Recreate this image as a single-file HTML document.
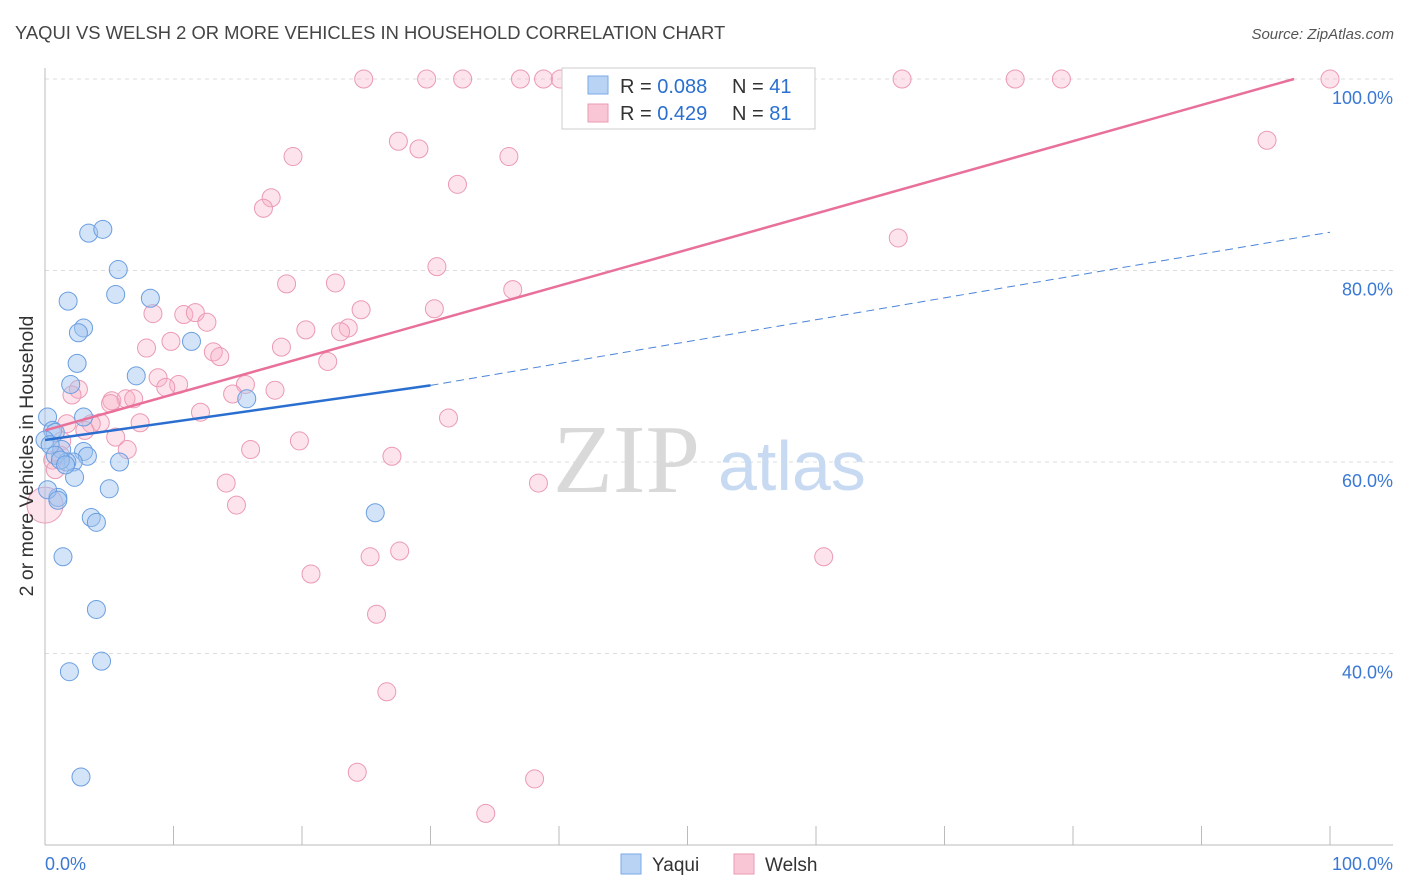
<!DOCTYPE html>
<html><head><meta charset="utf-8">
<style>
body{margin:0;background:#fff;font-family:"Liberation Sans",sans-serif;}
svg{display:block}
</style></head>
<body>
<svg id="chart" width="1406" height="892" xmlns="http://www.w3.org/2000/svg">
<text x="15" y="39" font-size="18.4" fill="#444" font-family="Liberation Sans, sans-serif">YAQUI VS WELSH 2 OR MORE VEHICLES IN HOUSEHOLD CORRELATION CHART</text>
<text x="1394" y="39" font-size="15" fill="#555" text-anchor="end" font-style="italic">Source: ZipAtlas.com</text>
<g id="grid"></g>
<text x="553" y="492" font-size="98" fill="#d9d9d9" font-family="Liberation Serif, serif">ZIP</text>
<text x="718" y="490" font-size="70" fill="#c8daf2">atlas</text>
<g id="points"></g>
<g id="lines"></g>
<text transform="translate(33,456) rotate(-90)" font-size="19.5" fill="#333" text-anchor="middle">2 or more Vehicles in Household</text>
<g>
<rect x="562" y="68" width="253" height="61" fill="#fff" stroke="#ccc"/>
<rect x="588" y="76" width="20" height="18" fill="#b9d3f5" stroke="#7aaae6"/>
<text x="620" y="93" font-size="20" fill="#333">R = <tspan fill="#2a6fd0">0.088</tspan></text>
<text x="732" y="93" font-size="20" fill="#333">N = <tspan fill="#2a6fd0">41</tspan></text>
<rect x="588" y="104" width="20" height="18" fill="#f9c6d5" stroke="#eb9ab4"/>
<text x="620" y="120" font-size="20" fill="#333">R = <tspan fill="#2a6fd0">0.429</tspan></text>
<text x="732" y="120" font-size="20" fill="#333">N = <tspan fill="#2a6fd0">81</tspan></text>
</g>
<g>
<rect x="621" y="854" width="20" height="20" fill="#b9d3f5" stroke="#7aaae6"/>
<text x="652" y="871" font-size="19" fill="#333">Yaqui</text>
<rect x="734" y="854" width="20" height="20" fill="#f9c6d5" stroke="#eb9ab4"/>
<text x="765" y="871" font-size="19" fill="#333">Welsh</text>
</g>
</svg>
<script>
const yTicks=[40,60,80,100];
const yTickLabels=["40.0%","60.0%","80.0%","100.0%"];
const xTicks=[0,10,20,30,40,50,60,70,80,90,100];
const xTickLabels=["0.0%","100.0%"];
const yaquiX=[3.4,4.5,5.7,5.5,1.8,8.2,3.0,2.6,11.4,2.5,7.1,2.0,15.7,3.0,0.2,0.6,0.8,1.3,3.0,3.3,2.2,1.7,5.8,2.3,5.0,1.0,0.2,1.0,3.6,4.0,25.7,1.4,4.0,4.4,1.9,2.8,0,0.4,0.8,1.2,1.6];
const yaquiY=[83.9,84.3,80.1,77.5,76.8,77.1,74.0,73.5,72.6,70.3,69.0,68.1,66.6,64.7,64.7,63.3,63.1,61.3,61.1,60.6,60.0,60.0,60.0,58.4,57.2,56.3,57.1,56.0,54.2,53.7,54.7,50.1,44.6,39.2,38.1,27.1,62.3,61.8,60.7,60.2,59.7];
const welshX=[24.8,29.7,32.5,37.0,38.8,40.1,41.2,47.6,66.7,75.5,79.1,100,27.5,29.1,19.3,36.1,32.1,95.1,17.6,17.0,66.4,30.5,18.8,22.6,36.4,8.4,10.8,11.7,12.6,30.3,24.6,20.3,23.6,23.0,9.8,7.9,18.4,13.1,13.6,22.0,8.8,10.4,9.4,2.6,2.1,15.6,17.9,14.6,5.2,6.3,6.9,5.1,12.1,31.4,7.4,4.3,3.6,1.7,5.5,19.8,1.3,16.0,6.4,27.0,0.6,14.1,38.4,14.9,60.6,25.3,27.6,20.7,25.8,26.6,24.3,38.1,34.3,0,1.2,3.1,0.8];
const welshY=[100,100,100,100,100,100,100,100,100,100,100,100,93.5,92.7,91.9,91.9,89.0,93.6,87.6,86.5,83.4,80.4,78.6,78.7,78.0,75.5,75.4,75.6,74.6,76.0,75.9,73.8,74.0,73.6,72.6,71.9,72.0,71.5,71.0,70.5,68.8,68.1,67.8,67.6,67.0,68.1,67.5,67.1,66.4,66.6,66.6,66.1,65.2,64.6,64.1,64.1,64.0,64.0,62.6,62.2,62.2,61.3,61.3,60.6,60.2,57.8,57.8,55.5,50.1,50.1,50.7,48.3,44.1,36.0,27.6,26.9,23.3,55.5,60.7,63.3,59.2];
const welshR=[];welshX.forEach((v,i)=>welshR.push(i===77?18:9));
const yaquiTrend=[62.3,68.0,84.0];
const welshTrend=[63.3,100];
const welshTrendEndX=97.2;

const X=v=>45+v*12.85, Y=v=>79+(100-v)*9.575;
const NS="http://www.w3.org/2000/svg";
function mk(tag,attrs,parent){const e=document.createElementNS(NS,tag);for(const k in attrs)e.setAttribute(k,attrs[k]);parent.appendChild(e);return e;}
const grid=document.getElementById('grid');
yTicks.forEach((t,i)=>{
 const l=mk('line',{x1:45,x2:1393,y1:Y(t),y2:Y(t),stroke:'#ddd','stroke-dasharray':'4,4'},grid);
 
 
 const tx=mk('text',{x:1393,y:Y(t)+25,'font-size':18,fill:'#3a78d4','text-anchor':'end'},grid);
 tx.textContent=yTickLabels[i];
 
 
});
const ax=mk('line',{x1:45,x2:1393,y1:845,y2:845,stroke:'#bbb'},grid);


const ay=mk('line',{x1:45,x2:45,y1:68,y2:845,stroke:'#bbb'},grid);


xTicks.forEach(t=>{
 const l=mk('line',{x1:X(t),x2:X(t),y1:826,y2:845,stroke:'#bbb'},grid);
 
 
});
[[0,'start',45],[100,'end',1393]].forEach((d,i)=>{
 const tx=mk('text',{x:d[2],y:870,'font-size':18,fill:'#3a78d4','text-anchor':d[1]},grid);
 tx.textContent=xTickLabels[i];
 
 
});
const pts=document.getElementById('points');
welshX.forEach((v,i)=>{
 const c=mk('circle',{cx:X(v),cy:Y(welshY[i]),r:welshR[i],fill:'rgba(248,176,198,0.35)',stroke:'#eb9ab4','stroke-width':1},pts);
 
 
});
yaquiX.forEach((v,i)=>{
 const c=mk('circle',{cx:X(v),cy:Y(yaquiY[i]),r:9,fill:'rgba(160,196,240,0.45)',stroke:'#6a9ee0','stroke-width':1},pts);
 
 
});
const lines=document.getElementById('lines');
const b1=mk('line',{x1:X(0),y1:Y(yaquiTrend[0]),x2:X(30),y2:Y(yaquiTrend[1]),stroke:'#2a6fd0','stroke-width':2.5},lines);


const b2=mk('line',{x1:X(30),y1:Y(yaquiTrend[1]),x2:X(100),y2:Y(yaquiTrend[2]),stroke:'#4a84d8','stroke-width':1,'stroke-dasharray':'8,5'},lines);


const p1=mk('line',{x1:X(0),y1:Y(welshTrend[0]),x2:X(welshTrendEndX),y2:Y(welshTrend[1]),stroke:'#e8709a','stroke-width':2.5},lines);


</script>
</body></html>
